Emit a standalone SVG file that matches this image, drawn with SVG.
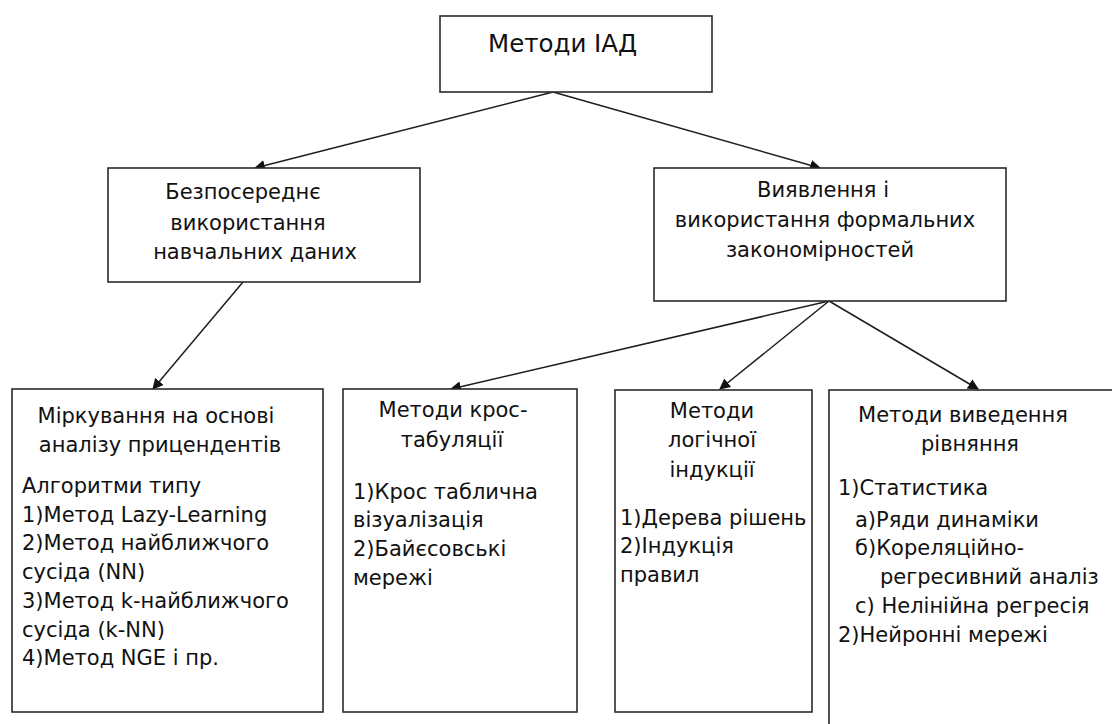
<svg xmlns="http://www.w3.org/2000/svg" width="1112" height="724" viewBox="0 0 1112 724">
<style>
  .box { fill: #ffffff; stroke: #2a2a2a; stroke-width: 1.6; }
  .t { font-family: "DejaVu Sans", "Liberation Sans", sans-serif; font-size: 21px; fill: #111; }
  .c { text-anchor: middle; }
  .big { font-size: 24.5px; }
  .conn { stroke: #1e1e1e; stroke-width: 1.5; fill: none; marker-end: url(#arr); }
</style>
<defs>
  <marker id="arr" viewBox="0 0 10 10" refX="9" refY="5" markerWidth="11" markerHeight="11" markerUnits="userSpaceOnUse" orient="auto">
    <path d="M0,0 L10,5 L0,10 z" fill="#111"/>
  </marker>
</defs>
<rect width="1112" height="724" fill="#ffffff"/>

<g id="connectors">
  <line class="conn" x1="553" y1="92" x2="255" y2="168"/>
  <line class="conn" x1="553" y1="92" x2="820" y2="168"/>
  <line class="conn" x1="243" y1="282" x2="153" y2="389"/>
  <line class="conn" x1="829" y1="301" x2="451" y2="389"/>
  <line class="conn" x1="829" y1="301" x2="720" y2="389"/>
  <line class="conn" x1="829" y1="301" x2="978" y2="389"/>
</g>

<g id="node-root">
  <rect class="box" x="440" y="16" width="272" height="76"/>
  <text class="t big" x="488" y="52">Методи ІАД</text>
</g>

<g id="node-direct">
  <rect class="box" x="108" y="168" width="312" height="114"/>
  <text class="t c" x="243" y="199">Безпосереднє</text>
  <text class="t c" x="248" y="230">використання</text>
  <text class="t c" x="255" y="259">навчальних даних</text>
</g>

<g id="node-formal">
  <rect class="box" x="654" y="168" width="352" height="133"/>
  <text class="t c" x="823" y="197">Виявлення і</text>
  <text class="t c" x="825" y="227">використання формальних</text>
  <text class="t c" x="820" y="257">закономірностей</text>
</g>

<g id="node-precedents">
  <rect class="box" x="12" y="389" width="311" height="323"/>
  <text class="t c" x="156" y="423">Міркування на основі</text>
  <text class="t c" x="160" y="452">аналізу прицендентів</text>
  <text class="t" x="22" y="493">Алгоритми типу</text>
  <text class="t" x="22" y="522">1)Метод Lazy-Learning</text>
  <text class="t" x="22" y="550">2)Метод найближчого</text>
  <text class="t" x="22" y="579">сусіда (NN)</text>
  <text class="t" x="22" y="608">3)Метод k-найближчого</text>
  <text class="t" x="22" y="637">сусіда (k-NN)</text>
  <text class="t" x="22" y="665">4)Метод NGE і пр.</text>
</g>

<g id="node-crosstab">
  <rect class="box" x="343" y="389" width="234" height="323"/>
  <text class="t c" x="453" y="417">Методи крос-</text>
  <text class="t c" x="452" y="447">табуляції</text>
  <text class="t" x="353" y="499">1)Крос таблична</text>
  <text class="t" x="353" y="527">візуалізація</text>
  <text class="t" x="353" y="556">2)Байєсовські</text>
  <text class="t" x="353" y="585">мережі</text>
</g>

<g id="node-logic">
  <rect class="box" x="615" y="390" width="197" height="322"/>
  <text class="t c" x="712" y="418">Методи</text>
  <text class="t c" x="712" y="447">логічної</text>
  <text class="t c" x="712" y="477">індукції</text>
  <text class="t" x="620" y="525">1)Дерева рішень</text>
  <text class="t" x="620" y="553">2)Індукція</text>
  <text class="t" x="620" y="582">правил</text>
</g>

<g id="node-equation">
  <rect class="box" x="829" y="390" width="300" height="360"/>
  <text class="t c" x="963" y="422">Методи виведення</text>
  <text class="t c" x="970" y="451">рівняння</text>
  <text class="t" x="838" y="495">1)Статистика</text>
  <text class="t" x="855" y="527">а)Ряди динаміки</text>
  <text class="t" x="855" y="555">б)Кореляційно-</text>
  <text class="t" x="880" y="584">регресивний аналіз</text>
  <text class="t" x="855" y="613">с) Нелінійна регресія</text>
  <text class="t" x="838" y="642">2)Нейронні мережі</text>
</g>
</svg>
